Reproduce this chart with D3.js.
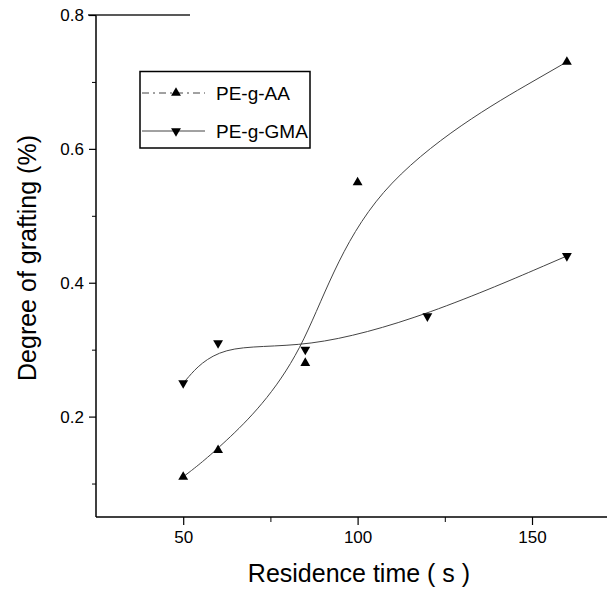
<!DOCTYPE html>
<html>
<head>
<meta charset="utf-8">
<script src="https://cdn.jsdelivr.net/npm/d3@7"></script>
<style>
  html, body { margin: 0; padding: 0; background: #fff; }
  svg { display: block; font-family: Arial, "Liberation Sans", Helvetica, sans-serif; }
</style>
</head>
<body>
<svg id="chart" width="607" height="590"></svg>
<script>
// Residence time (s) on x, degree of grafting (%) on y
const timeAA = [50, 60, 85, 100, 160];
const graftAA = [0.11, 0.15, 0.28, 0.55, 0.73];
const timeGMA = [50, 60, 85, 120, 160];
const graftGMA = [0.25, 0.31, 0.30, 0.35, 0.44];
const seriesNames = ["PE-g-AA", "PE-g-GMA"];
const xMajorTicks = [50, 100, 150];
const xMinorTicks = [75, 125];
const yMajorTicks = [0.2, 0.4, 0.6, 0.8];
const yMinorTicks = [0.1, 0.3, 0.5, 0.7];
const xTitle = "Residence time ( s )";
const yTitle = "Degree of grafting (%)";

const svg = d3.select("#chart");
const plotL = 96, plotB = 517, plotT = 15, plotR = 607;

const x = d3.scaleLinear().domain([25, 171.5]).range([plotL, plotR]);
const y = d3.scaleLinear().domain([0.05, 0.8]).range([plotB, plotT]);

// frame lines
svg.append("line").attr("x1", plotL).attr("x2", plotL).attr("y1", plotT).attr("y2", plotB)
  .attr("stroke", "#000").attr("stroke-width", 1.5);
svg.append("line").attr("x1", plotL).attr("x2", plotR).attr("y1", plotB).attr("y2", plotB)
  .attr("stroke", "#000").attr("stroke-width", 1.5);
svg.append("line").attr("x1", plotL - 8).attr("x2", 190).attr("y1", plotT).attr("y2", plotT)
  .attr("stroke", "#222").attr("stroke-width", 1.5);

// y axis
const yAxis = d3.axisLeft(y).tickValues(yMajorTicks).tickSize(7).tickPadding(5)
  .tickFormat(d3.format(".1f"));
const gy = svg.append("g").attr("transform", `translate(${plotL},0)`).call(yAxis);
gy.select(".domain").remove();
gy.selectAll(".tick line").attr("stroke-width", 1.2);
gy.selectAll(".tick text").attr("font-size", 17).attr("fill", "#000")
  .attr("font-family", "Arial, 'Liberation Sans', sans-serif");
const gyMinor = svg.append("g").attr("transform", `translate(${plotL},0)`)
  .call(d3.axisLeft(y).tickValues(yMinorTicks).tickSize(4).tickFormat(""));
gyMinor.select(".domain").remove();

// x axis
const xAxis = d3.axisBottom(x).tickValues(xMajorTicks).tickSize(8).tickPadding(6)
  .tickFormat(d3.format("d"));
const gx = svg.append("g").attr("transform", `translate(0,${plotB})`).call(xAxis);
gx.select(".domain").remove();
gx.selectAll(".tick line").attr("stroke-width", 1.2);
gx.selectAll(".tick text").attr("font-size", 17).attr("fill", "#000")
  .attr("font-family", "Arial, 'Liberation Sans', sans-serif");
const gxMinor = svg.append("g").attr("transform", `translate(0,${plotB})`)
  .call(d3.axisBottom(x).tickValues(xMinorTicks).tickSize(5).tickFormat(""));
gxMinor.select(".domain").remove();

// axis titles
svg.append("text").attr("x", 359).attr("y", 582).attr("text-anchor", "middle")
  .attr("font-size", 25).text(xTitle);
svg.append("text").attr("transform", "translate(36,258) rotate(-90)")
  .attr("text-anchor", "middle").attr("font-size", 25).text(yTitle);

// smoothed curves (cubic B-spline)
const line = d3.line().x(d => x(d[0])).y(d => y(d[1])).curve(d3.curveBasis);
const aa = timeAA.map((t, i) => [t, graftAA[i]]);
const gma = timeGMA.map((t, i) => [t, graftGMA[i]]);

svg.append("path").datum(aa).attr("d", line).attr("fill", "none")
  .attr("stroke", "#444").attr("stroke-width", 1);
svg.append("path").datum(gma).attr("d", line).attr("fill", "none")
  .attr("stroke", "#444").attr("stroke-width", 1);

const up = d3.symbol().type(d3.symbolTriangle).size(42);
svg.selectAll(".ptAA").data(aa).join("path").attr("class", "ptAA")
  .attr("d", up).attr("transform", d => `translate(${x(d[0])},${y(d[1])})`)
  .attr("fill", "#000");
svg.selectAll(".ptGMA").data(gma).join("path").attr("class", "ptGMA")
  .attr("d", up).attr("transform", d => `translate(${x(d[0])},${y(d[1])}) rotate(180)`)
  .attr("fill", "#000");

// legend
const lg = svg.append("g");
lg.append("rect").attr("x", 140).attr("y", 71.5).attr("width", 170).attr("height", 76.5)
  .attr("fill", "#fff").attr("stroke", "#000").attr("stroke-width", 1.5);
const rows = [
  { name: seriesNames[0], cy: 93, rot: 0, dash: "7,4,2,4" },
  { name: seriesNames[1], cy: 131, rot: 180, dash: null }
];
rows.forEach(r => {
  lg.append("line").attr("x1", 142).attr("x2", 205).attr("y1", r.cy).attr("y2", r.cy)
    .attr("stroke", "#444").attr("stroke-width", 1)
    .attr("stroke-dasharray", r.dash);
  lg.append("path").attr("d", up).attr("fill", "#000")
    .attr("transform", `translate(176,${r.cy}) rotate(${r.rot})`);
  lg.append("text").attr("x", 216).attr("y", r.cy + 7).attr("font-size", 19).text(r.name);
});
</script>
</body>
</html>
